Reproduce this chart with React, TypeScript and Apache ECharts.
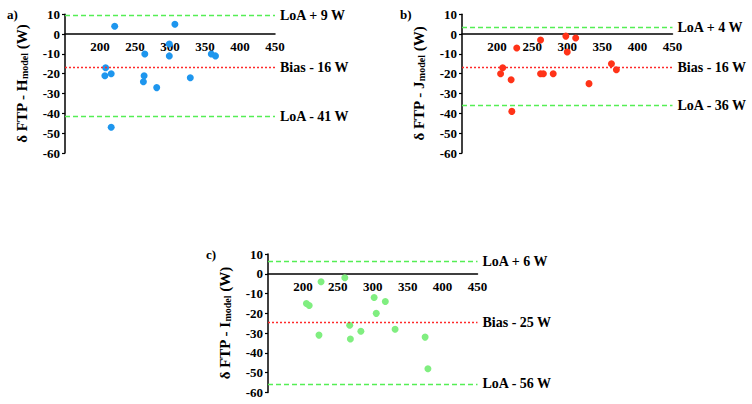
import React, { useEffect, useRef } from "react";
import * as echarts from "echarts";

// Panel a: δ FTP - H_model
const aX = [221, 307, 299, 299, 264, 359, 365, 208, 207, 216, 263, 262, 281, 329, 216];
const aY = [4, 5, -5, -11, -10, -10, -11, -17, -21, -20, -21, -24, -27, -22, -47];
// Panel b: δ FTP - J_model
const bX = [298, 312, 262, 228, 300, 208, 205, 220, 262, 266, 280, 331, 363, 370, 221];
const bY = [-1, -2, -3, -7, -9, -17, -20, -23, -20, -20, -20, -25, -15, -18, -39];
// Panel c: δ FTP - I_model
const cX = [205, 209, 226, 260, 223, 267, 268, 283, 302, 305, 318, 332, 375, 379];
const cY = [-15, -16, -4, -2, -31, -26, -33, -29, -12, -20, -14, -28, -32, -48];

// Reference lines [upper LoA, bias, lower LoA]
const aLines = [9.5, -16.8, -41.5];
const aLineLabels = ["LoA + 9 W", "Bias - 16 W", "LoA - 41 W"];
const bLines = [3.5, -16.8, -35.8];
const bLineLabels = ["LoA + 4 W", "Bias - 16 W", "LoA - 36 W"];
const cLines = [6.4, -24.5, -55.7];
const cLineLabels = ["LoA + 6 W", "Bias - 25 W", "LoA - 56 W"];

const panelLetters = ["a)", "b)", "c)"];
const yNameParts = [
  ["δ FTP - H", "model", " (W)"],
  ["δ FTP - J", "model", " (W)"],
  ["δ FTP - I", "model", " (W)"],
];

const xMin = 150;
const xMax = 450;
const xStep = 50;
const yMin = -60;
const yMax = 10;
const yStep = 10;

const FONT = "Liberation Serif";
const GREEN_LINE = "#55ee55";
const RED_LINE = "#ff2a2a";
const pointColors = ["#1e96ee", "#ff3318", "#80ee80"];

const grids = [
  { left: 65, top: 14.3, width: 210, height: 138.7 },
  { left: 462, top: 14.3, width: 210.5, height: 138.7 },
  { left: 268, top: 254, width: 209.5, height: 138.5 },
];

export default function App() {
  const ref = useRef<HTMLDivElement>(null);
  useEffect(() => {
    document.body.style.margin = "0";
    if (!ref.current) return;
    const chart = echarts.init(ref.current, undefined, { renderer: "svg" });

    const xs = [aX, bX, cX];
    const ys = [aY, bY, cY];
    const lines = [aLines, bLines, cLines];
    const lineLabels = [aLineLabels, bLineLabels, cLineLabels];

    const xAxis = grids.map((g, i) => ({
      type: "value",
      gridIndex: i,
      min: xMin,
      max: xMax,
      interval: xStep,
      // place the x axis (line + labels) at y = 0
      offset: -((0 - yMin) / (yMax - yMin)) * g.height,
      axisLine: { show: true, onZero: false, lineStyle: { color: "#000", width: 1.5 } },
      axisTick: { show: false },
      splitLine: { show: false },
      axisLabel: {
        margin: 6,
        fontFamily: FONT,
        fontWeight: "bold",
        fontSize: 13,
        color: "#000",
        formatter: (v: number) => (v === xMin ? "" : String(v)),
      },
    }));

    const yAxis = grids.map((_, i) => ({
      type: "value",
      gridIndex: i,
      min: yMin,
      max: yMax,
      interval: yStep,
      axisLine: { show: true, onZero: false, lineStyle: { color: "#000", width: 1.5 } },
      axisTick: { show: true, length: 3, lineStyle: { color: "#000", width: 1.2 } },
      splitLine: { show: false },
      axisLabel: {
        margin: 5,
        fontFamily: FONT,
        fontWeight: "bold",
        fontSize: 13,
        color: "#000",
      },
      name: `{m|${yNameParts[i][0]}}{s|${yNameParts[i][1]}}{m|${yNameParts[i][2]}}`,
      nameLocation: "middle",
      nameGap: 36,
      nameTextStyle: {
        rich: {
          m: { fontFamily: FONT, fontWeight: "bold", fontSize: 15, lineHeight: 15, color: "#000" },
          s: {
            fontFamily: FONT,
            fontWeight: "bold",
            fontSize: 10,
            lineHeight: 6,
            verticalAlign: "bottom",
            color: "#000",
          },
        },
      },
    }));

    const series = grids.map((_, i) => ({
      type: "scatter",
      xAxisIndex: i,
      yAxisIndex: i,
      symbolSize: 7,
      itemStyle: { color: pointColors[i], opacity: 1 },
      data: xs[i].map((x, k) => [x, ys[i][k]]),
      markLine: {
        silent: true,
        symbol: ["none", "none"],
        label: {
          show: true,
          position: "end",
          distance: 5,
          fontFamily: FONT,
          fontWeight: "bold",
          fontSize: 14,
          color: "#000",
        },
        data: lines[i].map((v, k) => ({
          yAxis: v,
          label: { formatter: lineLabels[i][k] },
          lineStyle:
            k === 1
              ? { color: RED_LINE, type: [2, 2], width: 1.3, opacity: 1 }
              : { color: GREEN_LINE, type: [5, 3], width: 1.3, opacity: 1 },
        })),
      },
    }));

    const letterPos = [
      [7, 14],
      [400, 14],
      [206, 254],
    ];

    chart.setOption({
      animation: false,
      grid: grids.map((g) => ({ ...g, containLabel: false })),
      xAxis,
      yAxis,
      series,
      graphic: panelLetters.map((t, i) => ({
        type: "text",
        x: letterPos[i][0],
        y: letterPos[i][1],
        style: {
          text: t,
          fontFamily: FONT,
          fontWeight: "bold",
          fontSize: 13,
          fill: "#000",
          verticalAlign: "middle",
        },
      })),
    });
    return () => chart.dispose();
  }, []);
  return <div ref={ref} style={{ width: 752, height: 404 }} />;
}
